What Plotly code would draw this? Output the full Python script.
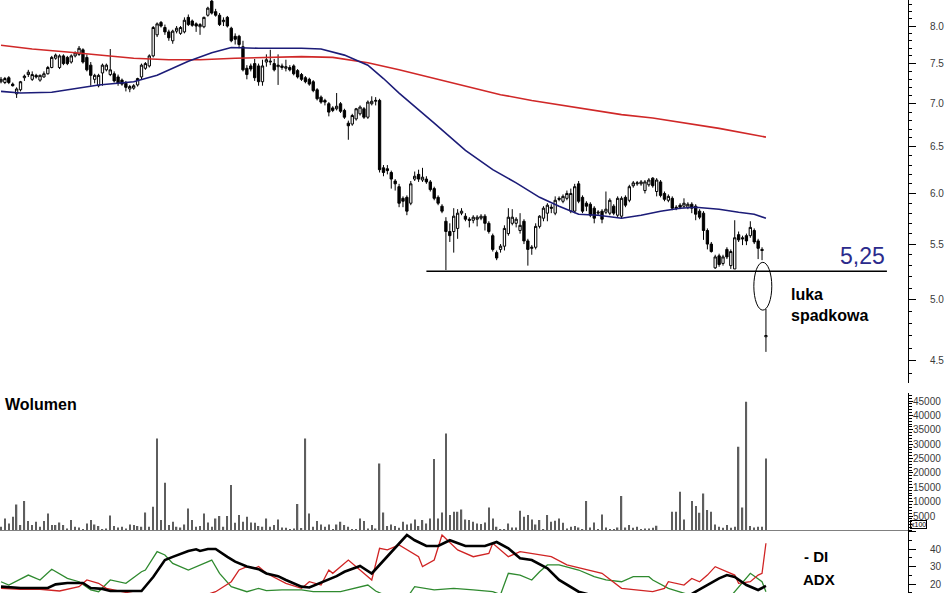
import math
import plotly.graph_objects as go

# ---------------- data ----------------
days = list(range(197))

opens = [7.27,7.26,7.32,7.24,7.12,7.17,7.32,7.36,7.30,7.35,7.29,7.33,7.37,7.45,7.57,7.45,7.60,7.58,7.52,7.60,
         7.62,7.68,7.58,7.48,7.30,7.22,7.38,7.42,7.36,7.37,7.33,7.29,7.25,7.18,7.19,7.23,7.33,7.44,7.47,7.60,
         7.88,8.05,7.98,7.92,7.80,7.93,7.90,7.92,8.12,8.07,8.03,7.99,7.99,8.15,8.35,8.20,8.15,8.06,8.12,7.97,
         7.86,7.86,7.72,7.44,7.47,7.50,7.47,7.27,7.52,7.52,7.50,7.46,7.47,7.44,7.45,7.47,7.41,7.36,7.32,7.30,
         7.27,7.17,7.08,7.04,7.00,6.95,6.94,7.00,6.92,6.77,6.76,6.82,6.88,6.94,6.84,7.00,7.03,7.04,6.27,6.26,
         6.22,6.13,6.07,5.95,5.96,5.90,6.15,6.20,6.14,6.15,6.12,6.05,5.96,5.87,5.72,5.62,5.62,5.65,5.80,5.77,
         5.74,5.73,5.74,5.75,5.77,5.70,5.58,5.42,5.45,5.48,5.60,5.70,5.70,5.63,5.72,5.53,5.46,5.47,5.67,5.75,
         5.80,5.86,5.80,5.95,5.92,5.95,5.82,5.82,6.10,5.96,5.90,5.89,5.85,5.80,5.82,5.81,5.80,5.87,5.78,5.77,
         5.96,5.93,6.08,6.10,6.10,6.03,6.09,6.16,6.02,6.12,6.00,5.93,5.95,5.86,5.88,5.87,5.86,5.89,5.87,5.82,
         5.80,5.63,5.50,5.28,5.39,5.32,5.45,5.30,5.27,5.59,5.56,5.58,5.58,5.63,5.53,5.45,4.69]
highs = [7.33,7.33,7.34,7.26,7.20,7.28,7.36,7.42,7.40,7.37,7.36,7.40,7.47,7.60,7.63,7.62,7.62,7.60,7.62,7.66,
         7.73,7.70,7.62,7.52,7.37,7.37,7.50,7.50,7.69,7.40,7.36,7.31,7.28,7.23,7.24,7.32,7.50,7.52,7.62,8.00,
         8.05,8.07,8.02,7.95,7.95,8.00,8.00,8.12,8.16,8.09,8.05,8.04,8.13,8.27,8.37,8.24,8.18,8.12,8.14,7.99,
         7.90,7.88,7.80,7.48,7.50,7.56,7.50,7.55,7.62,7.68,7.56,7.62,7.50,7.55,7.48,7.49,7.43,7.38,7.34,7.32,
         7.29,7.19,7.10,7.06,7.02,6.97,7.13,7.02,6.94,6.80,6.88,6.95,6.98,6.96,7.04,7.09,7.08,7.06,6.30,6.30,
         6.24,6.15,6.10,5.97,5.98,6.13,6.23,6.25,6.27,6.18,6.14,6.07,5.98,5.89,5.76,5.70,5.85,5.84,5.85,5.80,
         5.76,5.78,5.78,5.79,5.79,5.72,5.60,5.44,5.50,5.68,5.85,5.84,5.76,5.80,5.74,5.55,5.49,5.70,5.78,5.87,
         5.90,5.89,5.97,5.97,5.99,6.03,6.05,6.10,6.13,5.98,5.92,5.91,5.87,5.83,5.84,6.02,5.95,5.89,5.97,5.97,
         5.98,6.09,6.13,6.13,6.14,6.14,6.16,6.17,6.16,6.14,6.02,5.99,5.97,5.88,5.90,5.95,5.91,5.91,5.89,5.84,
         5.82,5.65,5.52,5.40,5.41,5.40,5.47,5.45,5.73,5.62,5.58,5.60,5.72,5.65,5.55,5.47,4.92]
lows = [7.25,7.24,7.24,7.21,7.07,7.15,7.28,7.33,7.28,7.31,7.27,7.32,7.36,7.44,7.55,7.43,7.48,7.48,7.50,7.58,
        7.60,7.50,7.40,7.22,7.25,7.20,7.22,7.40,7.34,7.26,7.22,7.22,7.15,7.14,7.17,7.21,7.30,7.42,7.45,7.58,
        7.85,7.98,7.88,7.80,7.76,7.90,7.88,7.90,8.00,7.99,7.92,7.88,7.97,8.13,8.16,8.13,8.00,8.00,7.98,7.78,
        7.75,7.70,7.40,7.30,7.40,7.28,7.22,7.22,7.46,7.48,7.40,7.23,7.42,7.40,7.40,7.35,7.31,7.28,7.25,7.22,
        7.14,7.04,7.00,6.98,6.85,6.90,6.92,6.89,6.82,6.58,6.74,6.80,6.86,6.82,6.82,6.98,6.98,6.22,6.18,6.20,
        6.05,6.03,5.86,5.86,5.78,5.88,6.13,6.12,6.12,6.10,6.02,5.93,5.88,5.80,5.26,5.52,5.42,5.55,5.78,5.72,
        5.66,5.70,5.67,5.73,5.63,5.60,5.43,5.35,5.42,5.44,5.58,5.68,5.66,5.60,5.50,5.30,5.40,5.45,5.65,5.72,
        5.72,5.80,5.78,5.92,5.90,5.93,5.80,5.80,5.90,5.80,5.82,5.76,5.70,5.78,5.70,5.79,5.78,5.78,5.76,5.75,
        5.86,5.91,6.06,6.08,6.08,6.00,6.07,6.06,5.97,5.96,5.92,5.91,5.83,5.83,5.84,5.85,5.84,5.80,5.73,5.74,
        5.54,5.45,5.42,5.27,5.29,5.30,5.36,5.27,5.27,5.52,5.49,5.49,5.56,5.50,5.36,5.35,4.57]
closes = [7.30,7.31,7.26,7.22,7.18,7.27,7.34,7.39,7.36,7.33,7.35,7.37,7.45,7.58,7.61,7.60,7.50,7.50,7.60,7.64,
          7.70,7.52,7.42,7.35,7.35,7.35,7.48,7.48,7.42,7.28,7.25,7.24,7.20,7.21,7.22,7.31,7.48,7.50,7.60,7.98,
          8.03,8.00,7.92,7.84,7.93,7.97,7.98,8.08,8.02,8.01,8.00,8.02,8.12,8.25,8.18,8.15,8.02,8.08,8.00,7.80,
          7.82,7.75,7.42,7.36,7.43,7.32,7.27,7.47,7.55,7.53,7.42,7.48,7.45,7.46,7.42,7.37,7.33,7.30,7.27,7.24,
          7.16,7.06,7.02,7.02,6.90,6.92,6.97,6.91,6.84,6.74,6.86,6.94,6.96,6.84,7.02,7.03,7.04,6.25,6.22,6.24,
          6.15,6.10,5.90,5.92,5.82,6.10,6.18,6.15,6.17,6.12,6.04,5.95,5.90,5.82,5.62,5.58,5.77,5.80,5.82,5.74,
          5.73,5.76,5.76,5.77,5.70,5.62,5.45,5.37,5.48,5.65,5.76,5.76,5.74,5.68,5.53,5.45,5.47,5.67,5.77,5.85,
          5.88,5.85,5.93,5.94,5.97,6.00,6.00,6.07,5.92,5.82,5.87,5.78,5.75,5.81,5.74,5.84,5.93,5.80,5.95,5.95,
          5.88,6.07,6.11,6.11,6.12,6.12,6.14,6.08,6.14,5.98,5.94,5.97,5.85,5.85,5.86,5.90,5.89,5.85,5.79,5.76,
          5.63,5.50,5.43,5.38,5.31,5.38,5.38,5.43,5.56,5.54,5.55,5.53,5.66,5.52,5.46,5.44,4.70]

volume = [1275,4170,2430,4750,9040,1850,10200,3250,1850,3000,1275,3250,5900,1850,1850,2780,1850,700,3600,1275,
          1040,350,2430,3600,2090,1500,350,700,5200,1500,1040,1275,700,2090,1850,1500,1275,6260,1275,8230,
          32000,3600,16570,1850,3000,1275,1040,2090,7650,3600,1275,1500,5900,2780,1275,4170,4980,1275,4980,15760,
          2660,5330,3000,4750,2780,2660,1500,1275,4170,1275,1850,3820,1040,930,350,700,9150,800,32000,5900,
          1275,3250,2090,1275,2090,500,2090,3000,1850,1275,350,200,4170,3250,700,1850,700,23300,6260,1500,
          2090,1500,930,3000,2090,2430,3820,1500,3600,2430,4170,24800,4170,6260,33700,5330,6490,6490,7300,3820,
          3600,3000,2430,2200,2780,8000,4170,1275,350,350,2430,1040,1040,6840,4750,5330,3820,2090,3600,350,
          5330,3000,3360,4170,2660,700,1275,1500,1040,350,10200,1040,2780,350,5560,1040,350,350,1000,11940,
          1040,1850,930,1275,350,700,700,930,1620,100,100,100,6490,6490,13440,3820,100,10200,8460,6140,
          12870,7070,6490,2090,1275,930,1850,930,1275,29090,8000,44740,1500,1040,1275,1275,25030]

ma_short_days = [0,5,13,20,25,34,40,48,54,59,66,77,82,88,94,98,102,111,119,126,132,138,143,148,153,159,
                 164,169,174,178,184,189,193,196]
ma_short = [7.15,7.13,7.14,7.19,7.23,7.27,7.35,7.53,7.64,7.71,7.70,7.70,7.69,7.61,7.48,7.31,7.13,6.77,6.46,
            6.25,6.11,5.96,5.87,5.79,5.78,5.75,5.78,5.82,5.85,5.86,5.84,5.81,5.79,5.75]
ma_long_days = [0,8,17,25,34,43,51,60,68,77,85,94,102,111,119,128,136,145,153,159,167,176,184,196]
ma_long = [7.74,7.69,7.65,7.61,7.57,7.55,7.55,7.57,7.58,7.59,7.58,7.51,7.42,7.31,7.21,7.11,7.04,6.97,
           6.91,6.87,6.83,6.77,6.71,6.61]

support_level = 5.25
support_days = [109, 227]
gap_days = [192.9, 197.5]          # ellipse around the downside gap
gap_prices = [4.91, 5.33]

adx_days = [0,5,12,14,17,21,23,26,28,36,39,42,44,48,50,51,53,55,58,60,63,66,68,71,73,75,77,79,82,86,88,92,
            95,99,104,106,109,112,115,119,124,127,130,133,136,140,143,148,154,166,176,178,181,184,186,188,
            191,194,196]
adx = [18.5,17.7,17.7,19.8,20.6,20.6,17.7,17.2,16,16,24,33.7,35.5,38.9,39.8,38.9,40,40,35.5,32.8,30,28.5,
       26,24.5,22.3,20.5,18.5,18,20.6,24.5,27,30.3,26,35.6,48,45,41.7,41.7,45,41.7,41.7,44,40.4,34.7,33.7,
       29,22.3,15.6,12,10,13,15.6,19.4,23.2,25.1,24,19.4,16.6,18.9]
mdi_days = [0,5,10,15,20,22,25,27,31,40,50,55,59,61,63,65,66,68,73,77,79,82,84,85,89,91,95,97,99,102,107,
            108,111,113,117,121,125,126,130,133,136,141,145,150,154,159,163,167,170,171,175,177,179,181,
            183,186,188,189,192,194,195,196]
mdi = [17.5,17,17,16,18.5,22.3,20.4,17.5,15.6,12,12,15.6,21.3,28,29.9,29,30,26.1,20.4,17.5,21.3,19.4,28,
       26.1,33.7,29.9,22.3,40.4,39.5,42.3,35.6,29.9,33.7,48,39.5,35.6,37.5,43.3,35.6,38.5,37.5,35.6,30.9,
       28,26.1,17.5,16.6,15.6,17.5,21.3,19.4,23.2,21.3,25.1,29.9,27,25.1,20.4,21.3,25.1,26.1,43.3]
pdi_days = [0,2,7,10,13,17,20,23,25,28,32,36,37,40,42,44,48,51,54,56,59,63,66,68,72,77,80,87,89,94,96,
            100,104,106,111,116,121,126,128,130,133,136,138,140,143,148,152,155,159,162,166,167,171,174,
            179,187,189,192,195,196]
pdi = [21.3,19.4,25.1,22.3,28.4,23.2,21.3,16.6,15.6,22.3,20.4,27,28,38.5,36.6,31.8,28,30.9,33.7,26.1,18.5,
       15.6,17.5,16.2,16.6,16.6,15.6,15.6,16.6,19.4,16,12,12,18.5,16.6,17.5,16.6,15.6,14,26.1,25.1,22.3,
       27,30.9,30.9,28,24.2,22.3,21.3,24.2,24.2,22.3,17.5,15.6,12,13,18.5,26.1,21.3,15.6]

price_ticks = [4.5, 5.0, 5.5, 6.0, 6.5, 7.0, 7.5, 8.0]
price_minor = [round(4.3 + 0.1 * k, 1) for k in range(42)]
volume_ticks = [5000, 10000, 15000, 20000, 25000, 30000, 35000, 40000, 45000]
di_ticks = [20, 30, 40, 50]
di_ticktext = ["20", "30", "40", ""]
di_minor = [15, 25, 35, 45]

assert len(opens) == len(highs) == len(lows) == len(closes) == len(volume) == len(days)

# ---------------- figure ----------------
FONT = "Liberation Sans, Arial, sans-serif"
W, H = 948, 593
PW = 908  # plotting width (right margin holds the axis labels)
fig = go.Figure()

fig.add_trace(go.Scatter(x=ma_long_days, y=ma_long, mode="lines", line=dict(color="#d02828", width=1.6),
                         xaxis="x", yaxis="y", showlegend=False, hoverinfo="skip"))
fig.add_trace(go.Scatter(x=ma_short_days, y=ma_short, mode="lines", line=dict(color="#1c1c78", width=1.6),
                         xaxis="x", yaxis="y", showlegend=False, hoverinfo="skip"))
fig.add_trace(go.Candlestick(x=days, open=opens, high=highs, low=lows, close=closes,
                             increasing=dict(line=dict(color="black", width=1), fillcolor="white"),
                             decreasing=dict(line=dict(color="black", width=1), fillcolor="black"),
                             whiskerwidth=0, xaxis="x", yaxis="y", showlegend=False))
fig.add_trace(go.Scatter(x=support_days, y=[support_level] * 2, mode="lines",
                         line=dict(color="black", width=1.5), xaxis="x", yaxis="y", showlegend=False))

fig.add_trace(go.Bar(x=days, y=volume, width=0.35, marker=dict(color="#5e5e5e", line=dict(width=0)),
                     xaxis="x2", yaxis="y2", showlegend=False))

fig.add_trace(go.Scatter(x=pdi_days, y=pdi, mode="lines", line=dict(color="#2f8a2f", width=1.3),
                         xaxis="x3", yaxis="y3", showlegend=False))
fig.add_trace(go.Scatter(x=mdi_days, y=mdi, mode="lines", line=dict(color="#d02424", width=1.3),
                         xaxis="x3", yaxis="y3", showlegend=False))
fig.add_trace(go.Scatter(x=adx_days, y=adx, mode="lines", line=dict(color="black", width=2.6),
                         xaxis="x3", yaxis="y3", showlegend=False))

xr = [-0.256, 232.4]
xcommon = dict(range=xr, showticklabels=False, ticks="", showgrid=False, zeroline=False)
ycommon = dict(side="right", showline=True, linecolor="black", linewidth=1, ticks="outside",
               tickcolor="black", ticklen=7, showgrid=False, zeroline=False,
               tickfont=dict(family=FONT, size=10, color="#3a3a3a"))

fig.update_layout(
    width=W, height=H, margin=dict(l=0, r=W - PW, t=0, b=0),
    paper_bgcolor="white", plot_bgcolor="white", showlegend=False,
    font=dict(family=FONT),
    xaxis=dict(domain=[0, 1], anchor="y", rangeslider=dict(visible=False), showline=False, **xcommon),
    xaxis2=dict(domain=[0, 1], anchor="y2", matches="x", showline=True, linecolor="#808080", **xcommon),
    xaxis3=dict(domain=[0, 1], anchor="y3", matches="x", showline=False, **xcommon),
    yaxis=dict(domain=[1 - 383 / H, 1], anchor="x", type="log", range=[0.63669, 0.92252],
               tickvals=price_ticks, ticktext=[f"{v:.1f}" for v in price_ticks],
               minor=dict(tickvals=price_minor, ticklen=3, tickcolor="black", ticks="outside"),
               ticklabelstandoff=12, **ycommon),
    yaxis2=dict(domain=[1 - 530.4 / H, 1 - 393 / H], anchor="x2", range=[0, 47791],
                tickvals=volume_ticks, tickformat="d",
                minor=dict(dtick=1000, ticklen=3, tickcolor="black", ticks="outside"),
                ticklabelstandoff=-2, **{**ycommon, "ticklen": 4}),
    yaxis3=dict(domain=[0, 1 - 530.4 / H], anchor="x3", range=[14.86, 50.63],
                tickvals=di_ticks, ticktext=di_ticktext,
                minor=dict(tickvals=di_minor, ticklen=3, tickcolor="black", ticks="outside"),
                ticklabelstandoff=12, **ycommon),
    boxgap=0.15,
    shapes=[dict(type="circle", xref="x", yref="y", x0=gap_days[0], x1=gap_days[1],
                 y0=gap_prices[0], y1=gap_prices[1], line=dict(color="black", width=1))],
)

ann = []
ann.append(dict(text="5,25", xref="x", yref="y", x=227, y=math.log10(5.385), xanchor="right",
                yanchor="middle", showarrow=False, font=dict(family=FONT, size=23, color="#2b2b8c")))
ann.append(dict(text="<b>luka<br>spadkowa</b>", xref="x", yref="y", x=202, y=math.log10(4.95),
                xanchor="left", yanchor="middle", align="left", showarrow=False,
                font=dict(family=FONT, size=16, color="black")))
ann.append(dict(text="<b>Wolumen</b>", xref="paper", yref="paper", x=3 / PW, y=1 - 404 / H,
                xanchor="left", yanchor="middle", showarrow=False, font=dict(family=FONT, size=16, color="black")))
ann.append(dict(text="<b>- DI</b>", xref="paper", yref="paper", x=802 / PW, y=1 - 556 / H,
                xanchor="left", yanchor="middle", showarrow=False, font=dict(family=FONT, size=15, color="black")))
ann.append(dict(text="<b>ADX</b>", xref="paper", yref="paper", x=801 / PW, y=1 - 579 / H,
                xanchor="left", yanchor="middle", showarrow=False, font=dict(family=FONT, size=15, color="black")))
ann.append(dict(text="<b>+DI</b>", xref="paper", yref="paper", x=802 / PW, y=1 - 600 / H,
                xanchor="left", yanchor="middle", showarrow=False, font=dict(family=FONT, size=15, color="black")))
ann.append(dict(text="x100", xref="paper", yref="paper", x=910 / PW, y=1 - 524 / H,
                xanchor="left", yanchor="middle", showarrow=False, bordercolor="black", borderwidth=1,
                borderpad=0, font=dict(family=FONT, size=7, color="black")))
fig.update_layout(annotations=ann)

fig.write_html("out.html", config={"displayModeBar": False},
               post_script="document.body.style.margin='0';")
